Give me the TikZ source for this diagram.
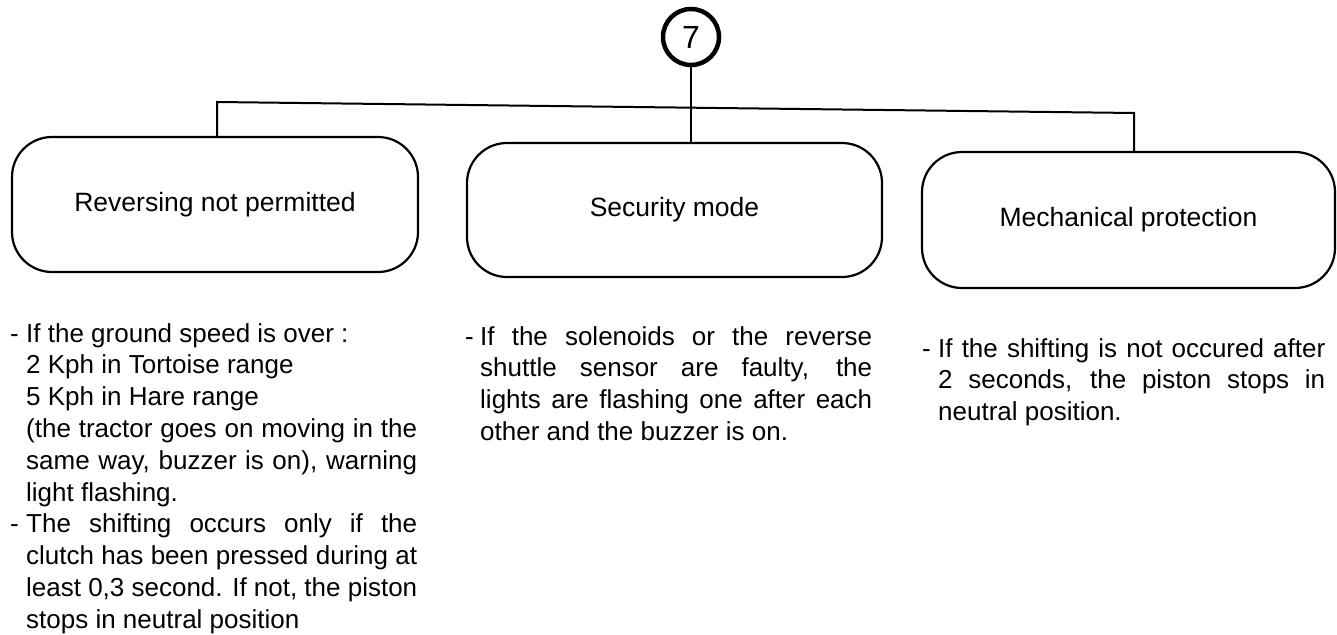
\documentclass[tikz,border=0pt]{standalone}
\usepackage{fontspec}
\setmainfont{Liberation Sans}
\newdimen\colw
\newdimen\hind
\newcommand\FirstJ[1]{\hbox to \colw{\hbox to \hind{-\hfil}#1}}
\newcommand\FirstR[1]{\hbox to \colw{\hbox to \hind{-\hfil}#1\hfil}}
\newcommand\LineJ[1]{\hbox to \colw{\hskip\hind #1}}
\newcommand\LineR[1]{\hbox to \colw{\hskip\hind #1\hfil}}
\hbadness=10000 \hfuzz=60pt
\tikzset{
  box/.style={draw, line width=2.2pt, rounded corners=40pt, inner sep=0pt,
    font=\fontsize{26.5}{31.8}\selectfont},
  conn/.style={line width=2pt},
  numcircle/.style={draw, circle, line width=4.5pt, minimum size=56pt, inner sep=0pt,
    font=\fontsize{32}{38}\selectfont},
  desc/.style={anchor=base west, inner sep=0pt, align=left,
    font=\fontsize{26}{31.8}\selectfont}
}
\begin{document}
\begin{tikzpicture}[x=1pt, y=-1pt]
\useasboundingbox (0,0) rectangle (1337,634);

\node[numcircle] (c7) at (691,37) {7};

\node[box, minimum width=406pt, minimum height=135pt] (b1) at (215,204.5) {Reversing not permitted};
\node[box, minimum width=415pt, minimum height=134pt] (b2) at (674.5,210) {Security mode};
\node[box, minimum width=413pt, minimum height=136pt] (b3) at (1128.5,220) {Mechanical protection};

\coordinate (busL) at (217,102);
\coordinate (busR) at (1134,113);
\draw[conn] (busL |- b1.north) -- (busL) -- (busR) -- (busR |- b3.north);
\draw[conn] (c7.south) -- (c7.south |- b2.north);

\node[desc] (d1) at (10,342) {\vtop{\colw=407pt \hind=16pt
\FirstR{If the ground speed is over :}
\LineR{2 Kph in Tortoise range}
\LineR{5 Kph in Hare range}
\LineJ{(the tractor goes on moving in the}
\LineJ{same way, buzzer is on), warning}
\LineR{light flashing.}
\FirstJ{The shifting occurs only if the}
\LineJ{clutch has been pressed during at}
\LineJ{least 0,3 second. If not, the piston}
\LineR{stops in neutral position}}};

\node[desc] (d2) at (465,345) {\vtop{\colw=407pt \hind=15pt
\FirstJ{If the solenoids or the reverse}
\LineJ{shuttle sensor are faulty, the}
\LineJ{lights are flashing one after each}
\LineR{other and the buzzer is on.}}};

\node[desc] (d3) at (922,357) {\vtop{\colw=403pt \hind=16pt
\FirstJ{If the shifting is not occured after}
\LineJ{2 seconds, the piston stops in}
\LineR{neutral position.}}};
\end{tikzpicture}
\end{document}
